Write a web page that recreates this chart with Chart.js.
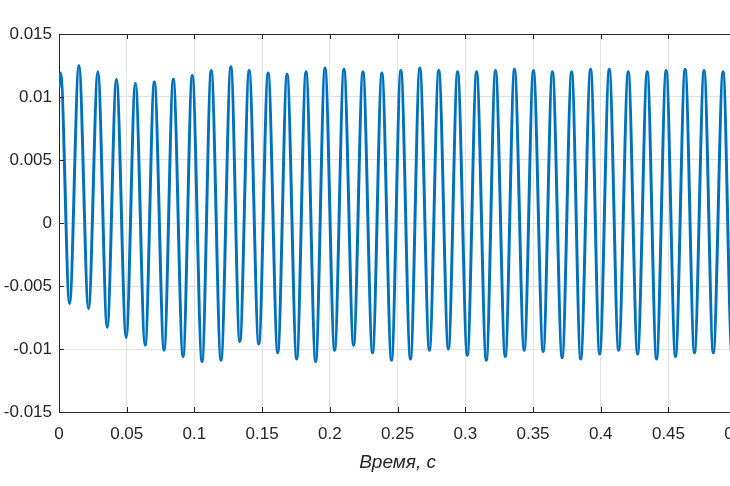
<!DOCTYPE html>
<html>
<head>
<meta charset="utf-8">
<script src="https://cdn.jsdelivr.net/npm/chart.js@4.4.1/dist/chart.umd.min.js"></script>
<style>
  html, body { margin: 0; padding: 0; background: #fff; }
  #wrap { width: 730px; height: 486px; overflow: hidden; position: relative; }
  #chart { position: absolute; left: 0; top: 0; }
</style>
</head>
<body>
<div id="wrap"><canvas id="chart" width="760" height="486"></canvas></div>
<script>
// extrema (time in s, value)
const peakT = [0.0012, 0.0147, 0.0287, 0.0424, 0.0564, 0.0704, 0.0844, 0.0984, 0.1124, 0.1269, 0.1404, 0.1544,
  0.1684, 0.1824, 0.1964, 0.2104, 0.2244, 0.2384, 0.2524, 0.2664, 0.2804, 0.2943, 0.3083, 0.3223,
  0.3363, 0.3503, 0.3643, 0.3785, 0.3925, 0.4063, 0.4203, 0.4343, 0.4483, 0.4623, 0.4763, 0.4903];
const peakV = [0.0119, 0.0125, 0.0120, 0.0114, 0.0111, 0.0112, 0.0114, 0.0117, 0.0121, 0.0124, 0.0121, 0.0119,
  0.0118, 0.0120, 0.0123, 0.0122, 0.0120, 0.0119, 0.0121, 0.0123, 0.0121, 0.0120, 0.0120, 0.0121,
  0.0122, 0.0121, 0.0120, 0.0120, 0.0122, 0.0122, 0.0120, 0.0120, 0.0121, 0.0122, 0.0121, 0.0120];
const troughT = [0.0078, 0.0218, 0.0356, 0.0496, 0.0636, 0.0776, 0.0916, 0.1056, 0.1196, 0.1335, 0.1475, 0.1615,
  0.1755, 0.1895, 0.2035, 0.2175, 0.2315, 0.2455, 0.2595, 0.2735, 0.2875, 0.3015, 0.3155, 0.3295,
  0.3435, 0.3575, 0.3715, 0.3852, 0.3992, 0.4132, 0.4272, 0.4412, 0.4552, 0.4692, 0.4831, 0.4969];
const troughV = [-0.0064, -0.0068, -0.0083, -0.0091, -0.0097, -0.0101, -0.0106, -0.0110, -0.0109, -0.0094, -0.0096, -0.0103,
  -0.0108, -0.0110, -0.0101, -0.0097, -0.0103, -0.0109, -0.0108, -0.0101, -0.0100, -0.0105, -0.0109, -0.0106,
  -0.0101, -0.0102, -0.0107, -0.0108, -0.0104, -0.0101, -0.0104, -0.0108, -0.0106, -0.0103, -0.0103, -0.0104];
const edgeT = [0, 0.5];
const edgeV = [0.0107, -0.0095];

const xTickLabels = ['0', '0.05', '0.1', '0.15', '0.2', '0.25', '0.3', '0.35', '0.4', '0.45', '0.5'];
const yTickLabels = ['-0.015', '-0.01', '-0.005', '0', '0.005', '0.01', '0.015'];

const points = [];
peakT.forEach((t, i) => points.push({ x: t, y: peakV[i] }));
troughT.forEach((t, i) => points.push({ x: t, y: troughV[i] }));
edgeT.forEach((t, i) => points.push({ x: t, y: edgeV[i] }));
points.sort((a, b) => a.x - b.x);

const axisColor = '#262626';

// top border and inward tick marks, like the original box
const framePlugin = {
  id: 'frame',
  afterDraw(chart) {
    const { ctx, chartArea: a, scales } = chart;
    ctx.save();
    ctx.strokeStyle = axisColor;
    ctx.lineWidth = 1;
    ctx.beginPath();
    ctx.moveTo(a.left, a.top + 0.5);
    ctx.lineTo(a.right, a.top + 0.5);
    ctx.moveTo(a.right - 0.5, a.top);
    ctx.lineTo(a.right - 0.5, a.bottom);
    scales.x.ticks.forEach(t => {
      const px = Math.round(scales.x.getPixelForValue(t.value)) + 0.5;
      ctx.moveTo(px, a.bottom); ctx.lineTo(px, a.bottom - 5);
      ctx.moveTo(px, a.top); ctx.lineTo(px, a.top + 5);
    });
    scales.y.ticks.forEach(t => {
      const py = Math.round(scales.y.getPixelForValue(t.value)) + 0.5;
      ctx.moveTo(a.left, py); ctx.lineTo(a.left + 5, py);
    });
    ctx.stroke();
    ctx.restore();
  }
};

new Chart(document.getElementById('chart').getContext('2d'), {
  type: 'line',
  data: {
    datasets: [{
      data: points,
      borderColor: '#0072BD',
      borderWidth: 3,
      pointRadius: 0,
      cubicInterpolationMode: 'monotone',
      fill: false
    }]
  },
  options: {
    responsive: false,
    animation: false,
    layout: { padding: { left: 0, right: 21, top: 34, bottom: 0 } },
    plugins: { legend: { display: false }, tooltip: { enabled: false } },
    scales: {
      x: {
        type: 'linear',
        min: 0,
        max: 0.5,
        ticks: {
          stepSize: 0.05,
          padding: 12,
          maxRotation: 0,
          color: axisColor,
          font: { family: 'Liberation Sans', size: 17 },
          callback: (v, i) => xTickLabels[i]
        },
        grid: { color: '#e2e2e2', drawTicks: false },
        border: { color: axisColor },
        title: {
          display: true,
          text: 'Время, с',
          color: axisColor,
          font: { family: 'Liberation Sans', size: 19, style: 'italic' },
          padding: { top: 4, bottom: 12 }
        },
        afterFit: s => { s.height = 74; }
      },
      y: {
        min: -0.015,
        max: 0.015,
        ticks: {
          stepSize: 0.005,
          padding: 7,
          color: axisColor,
          font: { family: 'Liberation Sans', size: 17 },
          callback: (v, i) => yTickLabels[i]
        },
        grid: { color: '#e2e2e2', drawTicks: false },
        border: { color: axisColor },
        afterFit: s => { s.width = 59; }
      }
    }
  },
  plugins: [framePlugin]
});
</script>
</body>
</html>
